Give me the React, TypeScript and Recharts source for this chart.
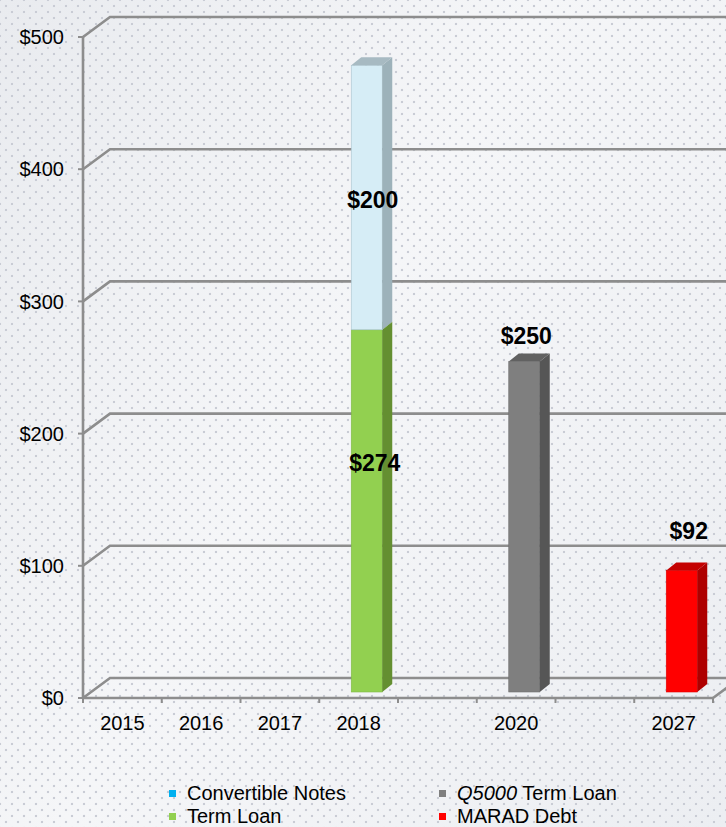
import React from 'react';
import { BarChart, Bar, XAxis, YAxis, CartesianGrid, LabelList, Legend } from 'recharts';

const years = ['2015', '2016', '2017', '2018', '', '2020', '', '2027'];
const convertibleNotes = [null, null, null, 200, null, null, null, null];
const termLoan = [null, null, null, 274, null, null, null, null];
const q5000TermLoan = [null, null, null, null, null, 250, null, null];
const maradDebt = [null, null, null, null, null, null, null, 92];
const yTicks = [0, 100, 200, 300, 400, 500];

const data = years.map((year, i) => ({
  year,
  conv: convertibleNotes[i],
  term: termLoan[i],
  q5000: q5000TermLoan[i],
  marad: maradDebt[i],
}));

const FONT = '"Liberation Sans", Arial, Helvetica, sans-serif';
const GRID = '#8d8d8d';
const DX = 27;
const DY = -20;
const SHIFT_X = 8;
const SHIFT_Y = -6;
const BDX = 10;
const BDY = -8;

const make3DBar = (front: string, side: string, top: string, edge: string) => (p: any) => {
  const { x, y, width, height } = p;
  if (!height || height <= 0 || x == null) return <g />;
  const X = x + SHIFT_X;
  const Y = y + SHIFT_Y;
  const W = width;
  const H = height;
  return (
    <g>
      <rect x={X} y={Y} width={W} height={H} fill={front} stroke={edge} strokeWidth={0.6} />
      <polygon
        points={`${X + W},${Y} ${X + W + BDX},${Y + BDY} ${X + W + BDX},${Y + H + BDY} ${X + W},${Y + H}`}
        fill={side}
      />
      <polygon
        points={`${X},${Y} ${X + BDX},${Y + BDY} ${X + W + BDX},${Y + BDY} ${X + W},${Y}`}
        fill={top}
      />
    </g>
  );
};

const makeLabel = (dxExtra: number, place: (y: number, h: number) => number) => (p: any) => {
  const vb = p.viewBox || {};
  const x = p.x ?? vb.x;
  const y = p.y ?? vb.y;
  const width = p.width ?? vb.width;
  const height = p.height ?? vb.height;
  if (p.value == null || p.value === 0) return null;
  return (
    <text
      x={x + width / 2 + dxExtra}
      y={place(y, height)}
      textAnchor="middle"
      dominantBaseline="central"
      fontFamily={FONT}
      fontWeight="bold"
      fontSize={23}
      fill="#000"
    >
      {`$${p.value}`}
    </text>
  );
};

const gridLine = (p: any) => {
  const { x1, y1, x2 } = p;
  const bottom = (p.y ?? 0) + (p.height ?? 0);
  const isFloor = Math.abs(y1 - bottom) < 1;
  return (
    <g key={p.key}>
      <path
        d={`M${x1},${y1} L${x1 + DX},${y1 + DY} L${x2 + DX + 30},${y1 + DY}`}
        stroke={GRID}
        strokeWidth={2.6}
        fill="none"
      />
      {isFloor && (
        <path d={`M${x2},${y1} L${x2 + DX},${y1 + DY}`} stroke={GRID} strokeWidth={2.6} fill="none" />
      )}
    </g>
  );
};

const XTick = (p: any) => {
  const { x, y, payload, index, visibleTicksCount } = p;
  const off = payload?.offset ?? 0;
  const last = index === (visibleTicksCount ?? years.length) - 1;
  return (
    <g>
      <line x1={x - off} y1={y} x2={x - off} y2={y + 5} stroke={GRID} strokeWidth={2} />
      {last && <line x1={x + off} y1={y} x2={x + off} y2={y + 5} stroke={GRID} strokeWidth={2} />}
      <text x={x} y={y + 25} textAnchor="middle" dominantBaseline="central" fontFamily={FONT} fontSize={20} fill="#000">
        {payload.value}
      </text>
    </g>
  );
};

const legendItems = [
  { name: 'Convertible Notes', color: '#00b0f0', left: 169, top: 782 },
  { name: 'Term Loan', color: '#92d050', left: 169, top: 805 },
  { name: 'Q5000', rest: ' Term Loan', italic: true, color: '#7f7f7f', left: 439, top: 782 },
  { name: 'MARAD Debt', color: '#ff0000', left: 439, top: 805 },
];

const LegendContent = () => (
  <div style={{ position: 'relative', width: 726, height: 50 }}>
    {legendItems.map((it) => (
      <div
        key={it.name}
        style={{
          position: 'absolute',
          left: it.left,
          top: it.top - 782,
          height: 23,
          display: 'flex',
          alignItems: 'center',
          fontFamily: FONT,
          fontSize: 20,
          color: '#000',
          whiteSpace: 'pre',
        }}
      >
        <span style={{ display: 'inline-block', width: 7, height: 7, background: it.color, marginRight: 11 }} />
        {it.italic ? (
          <span>
            <i>{it.name}</i>
            {it.rest}
          </span>
        ) : (
          <span>{it.name}</span>
        )}
      </div>
    ))}
  </div>
);

export default function App() {
  return (
    <div
      style={{
        position: 'absolute',
        left: 0,
        top: 0,
        width: 726,
        height: 827,
        overflow: 'hidden',
        backgroundColor: '#eff0f4',
        backgroundImage:
          'radial-gradient(circle, #c9ccd5 1.1px, transparent 1.6px), radial-gradient(circle, #c9ccd5 1.1px, transparent 1.6px), linear-gradient(120deg, #e9ebef 0%, #f5f6f8 45%, #eceef2 100%)',
        backgroundSize: '12px 12px, 12px 12px, 100% 100%',
        backgroundPosition: '0 0, 6px 6px, 0 0',
      }}
    >
      <BarChart
        width={726}
        height={827}
        data={data}
        margin={{ top: 37, right: 13, left: 0, bottom: 89 }}
        barSize={31}
      >
        <CartesianGrid horizontal={gridLine} vertical={false} stroke={GRID} />
        <XAxis
          dataKey="year"
          height={40}
          tickSize={0}
          tickMargin={0}
          tickLine={false}
          axisLine={{ stroke: GRID, strokeWidth: 2.6 }}
          tick={<XTick />}
          interval={0}
        />
        <YAxis
          width={83}
          domain={[0, 500]}
          ticks={yTicks}
          tickFormatter={(v: number) => `$${v}`}
          tickSize={5}
          tickMargin={14}
          axisLine={{ stroke: GRID, strokeWidth: 2.6 }}
          tickLine={{ stroke: GRID, strokeWidth: 2 }}
          tick={{ fill: '#000', fontSize: 20, fontFamily: FONT }}
          interval={0}
        />
        <Legend
          layout="horizontal"
          verticalAlign="middle"
          align="center"
          content={<LegendContent />}
          wrapperStyle={{ position: 'absolute', left: 0, top: 782, width: 726, height: 50 }}
        />
        <Bar dataKey="term" name="Term Loan" stackId="a" fill="#92d050" isAnimationActive={false}
          shape={make3DBar('#92d050', '#648f31', '#7cae40', '#7fb846')}>
          <LabelList dataKey="term" content={makeLabel(16, (y, h) => y + h * 0.35)} />
        </Bar>
        <Bar dataKey="conv" name="Convertible Notes" stackId="a" fill="#d5ecf5" isAnimationActive={false}
          shape={make3DBar('#d6edf6', '#9db2ba', '#a7bac2', '#aac4ce')}>
          <LabelList dataKey="conv" content={makeLabel(14, (y, h) => y + h / 2 - 4)} />
        </Bar>
        <Bar dataKey="q5000" name="Q5000 Term Loan" stackId="a" fill="#7f7f7f" isAnimationActive={false}
          shape={make3DBar('#7f7f7f', '#565656', '#616161', '#6e6e6e')}>
          <LabelList dataKey="q5000" content={makeLabel(10, (y) => y - 32)} />
        </Bar>
        <Bar dataKey="marad" name="MARAD Debt" stackId="a" fill="#ff0000" isAnimationActive={false}
          shape={make3DBar('#ff0000', '#ae0000', '#c40000', '#e00000')}>
          <LabelList dataKey="marad" content={makeLabel(15, (y) => y - 45)} />
        </Bar>
      </BarChart>
    </div>
  );
}
